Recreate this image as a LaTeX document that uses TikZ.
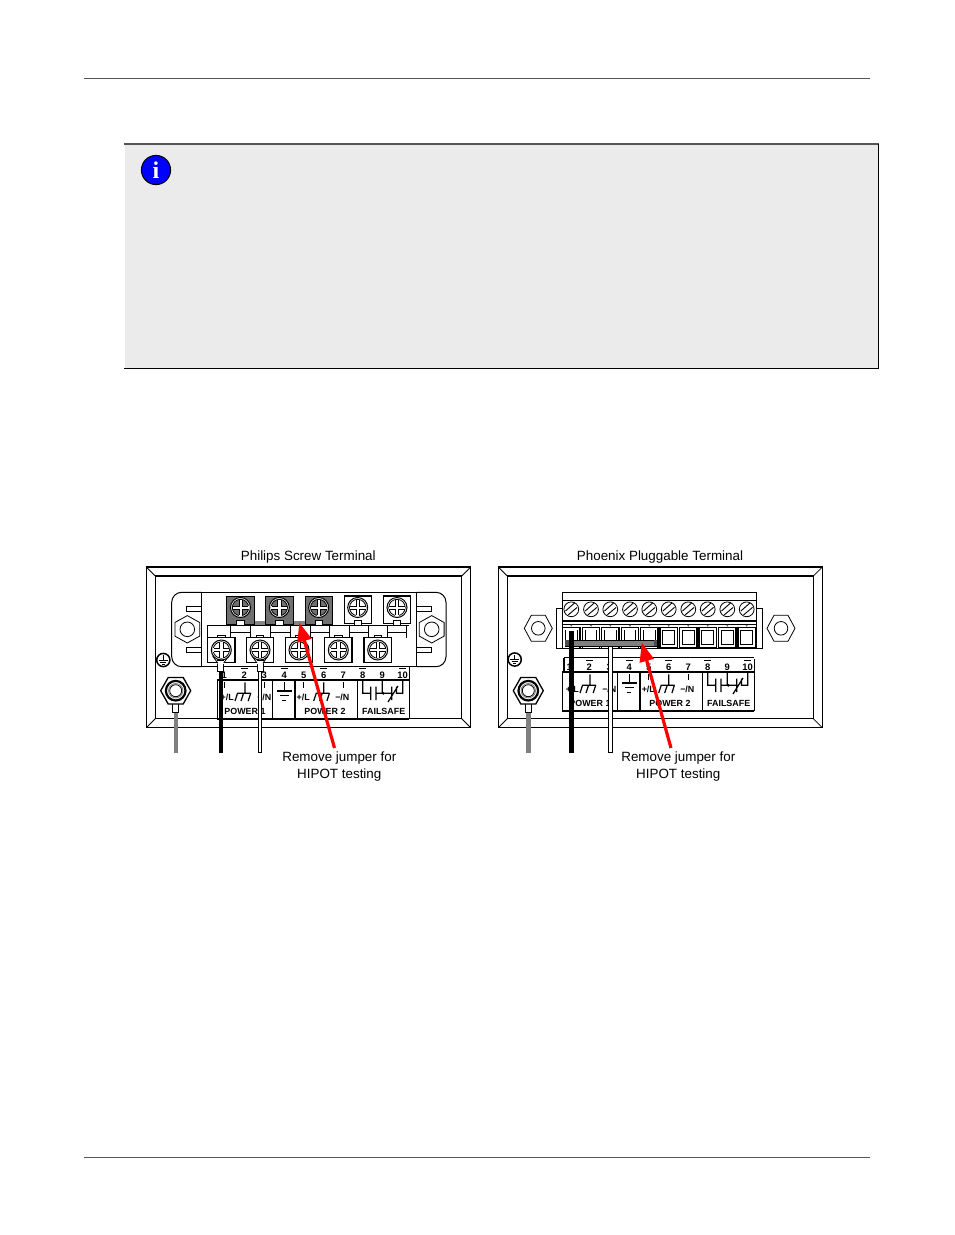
\documentclass[tikz,border=0pt]{standalone}
\usepackage{fontspec}
\setmainfont{Liberation Sans}
\usetikzlibrary{arrows.meta}
\definecolor{notebg}{HTML}{EBEBEB}
\definecolor{rulegray}{HTML}{555555}
\definecolor{jump}{HTML}{808080}
\definecolor{dgray}{HTML}{707070}
\tikzset{
  x=1pt,y=-1pt,
  lbl/.style={font=\fontsize{13.4}{13.4}\selectfont,inner sep=0pt,anchor=center},
  small/.style={font=\bfseries\fontsize{8.9}{8.9}\selectfont,inner sep=0pt,anchor=center},
  thin1/.style={line width=0.8pt,black},
  med/.style={line width=1.2pt,black},
  sym/.style={line width=1.2pt,black},
  redarrow/.style={draw=red,line width=3.2pt,-{Triangle[length=19pt,width=14pt]},shorten >=0pt},
}
% Philips screw: #1 x, #2 y, #3 inner fill
\newcommand{\philips}[3]{%
  \fill[white] (#1,#2) circle (10);
  \draw[line width=1pt] (#1,#2) circle (10);
  \draw[thin1,fill=#3] (#1,#2) circle (8.2);
  \fill[white] (#1-8,#2-1.6) rectangle (#1+8,#2+1.6);
  \fill[white] (#1-1.6,#2-8) rectangle (#1+1.6,#2+8);
  \draw[line width=0.8pt] (#1-7.8,#2-1.6) -- (#1-1.6,#2-1.6) -- (#1-1.6,#2-7.8)
     (#1+1.6,#2-7.8) -- (#1+1.6,#2-1.6) -- (#1+7.8,#2-1.6)
     (#1+7.8,#2+1.6) -- (#1+1.6,#2+1.6) -- (#1+1.6,#2+7.8)
     (#1-1.6,#2+7.8) -- (#1-1.6,#2+1.6) -- (#1-7.8,#2+1.6);
}
% pointy hex for Philips plate
\newcommand{\hexv}[2]{%
  \draw[thin1,fill=white] (#1,#2-13.7) -- (#1+12.4,#2-6.8) -- (#1+12.4,#2+6.8) -- (#1,#2+13.7) -- (#1-12.4,#2+6.8) -- (#1-12.4,#2-6.8) -- cycle;
  \draw[thin1] (#1,#2) circle (7.3);
}
% flat-top hex for Phoenix plate
\newcommand{\hexh}[2]{%
  \draw[thin1,fill=white] (#1-14,#2) -- (#1-7,#2-13) -- (#1+7,#2-13) -- (#1+14,#2) -- (#1+7,#2+13) -- (#1-7,#2+13) -- cycle;
  \draw[thin1] (#1,#2) circle (6.8);
}
% frame
\newcommand{\frameplate}[6]{% outer x0 y0 x1 y1, inner dx dy
  \draw[line width=1.1pt] (#1,#2) rectangle (#3,#4);
  \draw[line width=1.1pt] (#1+#5,#2+#6) rectangle (#3-#5,#4-#6);
  \draw[thin1] (#1,#2) -- (#1+#5,#2+#6) (#3,#2) -- (#3-#5,#2+#6) (#1,#4) -- (#1+#5,#4-#6) (#3,#4) -- (#3-#5,#4-#6);
}
% ground symbol in circle
\newcommand{\gndcirc}[2]{%
  \draw[line width=1.5pt,fill=white] (#1,#2) circle (6.6);
  \draw[line width=1pt] (#1,#2-4.6) -- (#1,#2) (#1-4.4,#2) -- (#1+4.4,#2) (#1-3,#2+2) -- (#1+3,#2+2) (#1-1.4,#2+4) -- (#1+1.4,#2+4);
}
% stud with lug and gray wire
\newcommand{\stud}[1]{%
  \draw[jump,line width=4.4pt] (#1,710) -- (#1,753);
  \draw[thin1,fill=white] (#1-2.9,702) rectangle (#1+2.9,712.7);
  \draw[line width=1.3pt,fill=white] (#1-15,690.7) -- (#1-7.5,677.5) -- (#1+7.5,677.5) -- (#1+15,690.7) -- (#1+7.5,704) -- (#1-7.5,704) -- cycle;
  \draw[line width=2.2pt] (#1,690.7) circle (9.8);
  \draw[line width=0.8pt,draw=gray] (#1,690.7) circle (7.2);
  \draw[thin1] (#1,690.7) circle (6);
}
% label table, drawn at the coordinates of the Philips panel
\newcommand{\terminaltable}{%
  \draw[med] (217.3,680) -- (409.3,680) (217.3,680) -- (217.3,719) (272.3,680) -- (272.3,719) (295,680) -- (295,719) (357.7,680) -- (357.7,719) (409.3,666.7) -- (409.3,719) (217.3,719) -- (409.3,719);
  \foreach \n/\xx in {1/224.3,2/244.3,3/264.3,4/284.3,5/303.7,6/323.7,7/343.3,8/362.7,9/382.3,10/402.7}
    \node[small,font=\bfseries\fontsize{9.4}{9.4}\selectfont] (num\n) at (\xx,675.3) {\n};
  \foreach \xx in {244.3,284.3,323.7,362.7,402.7}
    \draw[line width=1.2pt] (\xx-3.3,668.5) -- (\xx+3.3,668.5);
  \foreach \xx in {224.3,264.3,303.7,343.3}
    \draw[line width=1.2pt] (\xx,682.3) -- (\xx,687.7);
  \foreach \xx in {245,323.7}{
    \draw[sym] (\xx,682.3) -- (\xx,693.3) (\xx-8,693.3) -- (\xx+6,693.3)
      (\xx-7.5,693.3) -- (\xx-10,701) (\xx-1.5,693.3) -- (\xx-4,701) (\xx+5.7,693.3) -- (\xx+3.2,701);
  }
  \draw[sym] (284.3,682.3) -- (284.3,691) (277.3,691) -- (291.7,691) (280,695.7) -- (288.7,695.7) (282.3,700.3) -- (286.3,700.3);
  \node[small] (pl1) at (227.3,697.7) {+/L};
  \node[small] (mn1) at (264.3,697.7) {−/N};
  \node[small] (pl2) at (303.3,697.7) {+/L};
  \node[small] (mn2) at (342.3,697.7) {−/N};
  \node[small] (pw1) at (245,711) {POWER 1};
  \node[small] (pw2) at (325,711) {POWER 2};
  \node[small] (fs) at (383.7,711) {FAILSAFE};
  \draw[sym] (362.7,681) -- (362.7,693.3) -- (370,693.3) (370.7,686.7) -- (370.7,700)
     (376,686.7) -- (376,700) (376,693.3) -- (391.7,693.3) (382.3,681) -- (382.3,693.3)
     (391.7,686.7) -- (391.7,700) (396.5,686.7) -- (396.5,693.3) -- (402.7,693.3) -- (402.7,681)
     (388,702) -- (398,686);
  \fill (383.3,693.3) circle (1.5);
}
\begin{document}
\begin{tikzpicture}
\useasboundingbox (0,0) rectangle (954,1235);
\fill[white] (0,0) rectangle (954,1235);
% page rules
\coordinate (hl) at (84,78); \coordinate (hr) at (870,78);
\coordinate (fl) at (84,1157); \coordinate (fr) at (870,1157);
\draw[rulegray,line width=0.8pt] (hl) -- (hr);
\draw[rulegray,line width=0.8pt] (fl) -- (fr);
% note box
\fill[notebg] (125,144) rectangle (878,368);
\draw[rulegray,line width=1.3pt] (124,144) -- (878.5,144);
\draw[black,line width=1.1pt] (124,368.5) -- (878.7,368.5);
\draw[black,line width=1.1pt] (878.5,144) -- (878.5,368.5);
% info icon
\draw[line width=1pt,fill=blue] (156,170) circle (14.6);
\node[inner sep=0pt,text=white,font=\bfseries\fontsize{24}{24}\selectfont] (infoicon) at (156,170) {\fontspec{Liberation Serif}[BoldFont={Liberation Serif Bold}]\bfseries i};

% ===== Philips panel =====
\node[lbl] (t1) at (308.3,557.5) {Philips Screw Terminal};
\frameplate{146.3}{567}{470.7}{727.7}{9}{9}
\draw[line width=1pt,rounded corners=10pt] (201.7,592.3) -- (171.7,592.3) -- (171.7,666.7) -- (201.7,666.7);
\draw[line width=1pt,rounded corners=10pt] (416.7,592.3) -- (446,592.3) -- (446,666.7) -- (416.7,666.7);
\draw[thin1] (201.7,592.3) -- (416.7,592.3) (201.7,592.3) -- (201.7,666.7) (416.7,592.3) -- (416.7,666.7) (201.7,666.7) -- (416.7,666.7);
\foreach \yy in {606.7,647.3}{
  \draw[thin1] (201.7,\yy) -- (186.7,\yy) -- (186.7,\yy+4.7) -- (201.7,\yy+4.7);
  \draw[thin1] (416.7,\yy) -- (431.7,\yy) -- (431.7,\yy+4.7) -- (416.7,\yy+4.7);
}
\hexv{187.3}{629.3}
\hexv{431.7}{629.3}
\gndcirc{163.3}{660}
% upper terminal strip
\draw[thin1] (207.5,625) -- (409.3,625) (207.5,625) -- (207.5,637.5);
\foreach \aa/\bb in {230.7/250.7,270/290,310/329.3,349.3/368.3,387.3/406.7}{
  \draw[thin1] (\aa,625) -- (\aa,637.5) (\bb,625) -- (\bb,637.5);
  \draw[thin1] (\aa,632.3) -- (\bb,632.3);
}
% jumper
\fill[dgray!85] (227,621) rectangle (331,625.3);
% upper squares
\foreach \xx in {240.5,279.3,318.7}{
  \draw[thin1,fill=dgray] (\xx-13.8,596) rectangle (\xx+13.8,624.3);
  \draw[thin1,fill=white] (\xx-3.7,620.3) rectangle (\xx+3.7,625);
  \philips{\xx}{607.5}{dgray}
}
\foreach \xx in {357.7,397}{
  \draw[line width=1.1pt,fill=white] (\xx-13.4,596) rectangle (\xx+13.4,623.6);
  \draw[thin1,fill=white] (\xx-3.7,620.3) rectangle (\xx+3.7,625);
  \philips{\xx}{607.5}{white}
}
% lower squares
\foreach \xx in {221.3,260,299,338.3,377.7}{
  \draw[thin1,fill=white] (\xx-3.7,635) rectangle (\xx+3.7,638);
  \draw[line width=1.3pt,fill=white] (\xx-13.6,637.3) rectangle (\xx+13.6,662.7);
  \philips{\xx}{650}{white}
}
\terminaltable
% wires
\draw[line width=4.4pt] (220.7,671) -- (220.7,753);
\draw[line width=4.6pt] (260,671) -- (260,753);
\draw[white,line width=2.8pt] (260,671) -- (260,752.4);
\foreach \xx in {220.7,260}{
  \draw[thin1,fill=white] (\xx-3,660.5) rectangle (\xx+3,671.7);
  \fill[white] (\xx-4,661) -- (\xx+4,661) -- (\xx+3,664) -- (\xx-3,664) -- cycle;
  \draw[thin1] (\xx-8,656) -- (\xx-3,663) (\xx+8,656) -- (\xx+3,663);
}
\stud{175.7}
\node[lbl] (r1a) at (339.3,758) {Remove jumper for};
\node[lbl] (r1b) at (339.3,775.5) {HIPOT testing};
\coordinate (a1s) at (334.5,748);
\coordinate (a1t) at (299.3,622.5);
\draw[redarrow] (a1s) -- (a1t);

% ===== Phoenix panel =====
\node[lbl] (t2) at (660,557.5) {Phoenix Pluggable Terminal};
\frameplate{498.3}{567}{822.3}{727.7}{9}{9}
\hexh{538.3}{628.3}
\hexh{781}{628.3}
\gndcirc{514.7}{659.5}
% block
\draw[thin1,fill=white] (556.7,608) rectangle (562.3,648.3);
\draw[thin1,fill=white] (756.7,608) rectangle (762.3,648.3);
\draw[line width=1pt,fill=white] (562.3,592.3) rectangle (756.7,648.3);
\draw[line width=1.3pt] (562.3,600.3) -- (756.7,600.3);
\draw[line width=1.3pt] (562.3,621) -- (756.7,621);
\draw[line width=1.3pt] (562.3,624.3) -- (756.7,624.3);
\foreach \xx in {571.3,591,610.3,630,649.3,668.7,688.3,707.7,727.3,746.7}{
  \draw[thin1,fill=white] (\xx,609.3) circle (7.4);
  \draw[line width=0.9pt] (\xx-5.8,611) -- (\xx+3.2,603) (\xx-3.2,615) -- (\xx+5.8,607.4);
  \fill[black!60] (\xx,625.6) circle (1);
  \draw[line width=1pt] (\xx-9,627.3) -- (\xx+9,627.3);
}
\foreach \xx in {571.3,591,610.3,630,649.3}{
  \draw[line width=1.2pt] (\xx-8.6,627.3) -- (\xx-8.6,647.5) (\xx+8.6,627.3) -- (\xx+8.6,647.5);
  \draw[thin1] (\xx-5.6,630) -- (\xx-5.6,640) (\xx+5.6,630) -- (\xx+5.6,640);
}
\foreach \xx in {668.7,688.3,707.7,727.3,746.7}{
  \draw[line width=1.3pt,fill=white] (\xx-8.6,627.3) rectangle (\xx+8.6,647.5);
  \draw[line width=1pt] (\xx-5.8,630) rectangle (\xx+5.8,644.5);
}
% jumper bar
\draw[line width=0.8pt,fill=jump] (565.3,640.3) rectangle (656.7,646.3);
\fill[black!70] (565.3,640.3) rectangle (568.5,646.3);
\fill[black!70] (653.5,640.3) rectangle (656.7,646.3);
% table
\draw[med] (564,657.6) -- (754.3,657.6);
\begin{scope}[shift={(345,-8)}]
  \draw[med] (219,665.6) -- (219,680);
  \terminaltable
\end{scope}
% wires
\draw[line width=4.4pt] (571.3,631) -- (571.3,753);
\draw[line width=4.6pt] (610.3,646.5) -- (610.3,753);
\draw[white,line width=2.8pt] (610.3,647) -- (610.3,752.4);
\stud{528.3}
\node[lbl] (r2a) at (678.3,758) {Remove jumper for};
\node[lbl] (r2b) at (678.3,775.5) {HIPOT testing};
\coordinate (a2s) at (671,748);
\coordinate (a2t) at (641.7,642.5);
\draw[redarrow] (a2s) -- (a2t);
\end{tikzpicture}
\end{document}
